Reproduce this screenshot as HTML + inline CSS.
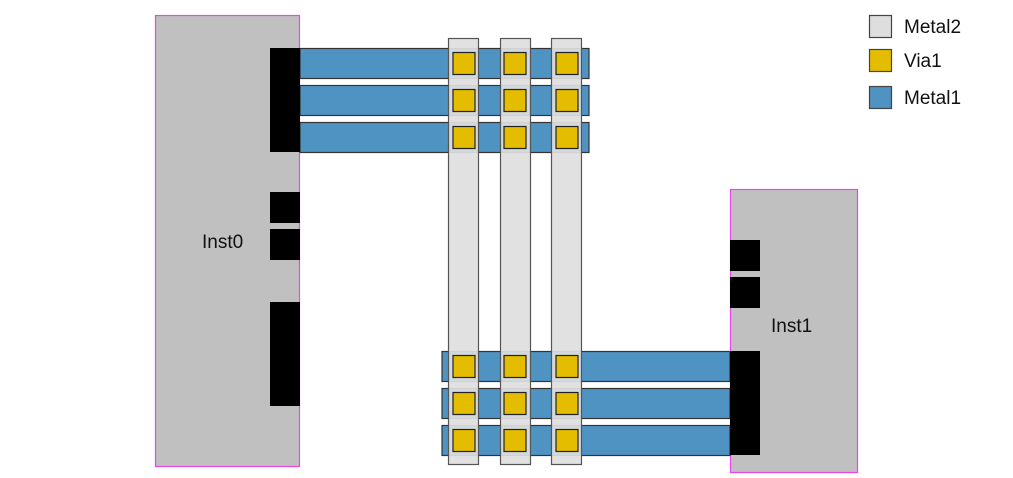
<!DOCTYPE html>
<html><head><meta charset="utf-8"><style>html,body{margin:0;padding:0;background:#fff}svg{display:block}</style></head><body>
<svg width="1013" height="478" viewBox="0 0 1013 478" xmlns="http://www.w3.org/2000/svg" font-family="Liberation Sans, sans-serif">
<rect x="155.5" y="15.5" width="144" height="451" fill="#c0c0c0" stroke="#ee44ee" stroke-width="1.2"/>
<text x="202" y="248" font-size="19" fill="#111">Inst0</text>
<rect x="730.5" y="189.5" width="127" height="283" fill="#c0c0c0" stroke="#ee44ee" stroke-width="1.2"/>
<text x="771" y="332" font-size="19" fill="#111">Inst1</text>
<g fill="#4f93c2" stroke="#333" stroke-width="1.2">
<rect x="300" y="48.5" width="289" height="30"/>
<rect x="300" y="85.5" width="289" height="30"/>
<rect x="300" y="122.5" width="289" height="30"/>
<rect x="442" y="351.5" width="288" height="30"/>
<rect x="442" y="388.5" width="288" height="30"/>
<rect x="442" y="425.5" width="288" height="30"/>
</g>
<g fill="#000">
<rect x="270" y="48" width="30" height="104"/>
<rect x="270" y="192" width="30" height="31"/>
<rect x="270" y="229" width="30" height="31"/>
<rect x="270" y="302" width="30" height="104"/>
<rect x="730" y="240" width="30" height="31"/>
<rect x="730" y="277" width="30" height="31"/>
<rect x="730" y="351" width="30" height="104"/>
</g>
<g fill="#dedede" stroke="#555" stroke-width="1.2" fill-opacity="0.92">
<rect x="448.5" y="38.5" width="30" height="426"/>
<rect x="500.5" y="38.5" width="30" height="426"/>
<rect x="551.5" y="38.5" width="30" height="426"/>
</g>
<g fill="#e4bc00" stroke="#222" stroke-width="1.2">
<rect x="453" y="52.5" width="22" height="22"/><rect x="504" y="52.5" width="22" height="22"/><rect x="556" y="52.5" width="22" height="22"/>
<rect x="453" y="89.5" width="22" height="22"/><rect x="504" y="89.5" width="22" height="22"/><rect x="556" y="89.5" width="22" height="22"/>
<rect x="453" y="126.5" width="22" height="22"/><rect x="504" y="126.5" width="22" height="22"/><rect x="556" y="126.5" width="22" height="22"/>
<rect x="453" y="355.5" width="22" height="22"/><rect x="504" y="355.5" width="22" height="22"/><rect x="556" y="355.5" width="22" height="22"/>
<rect x="453" y="392.5" width="22" height="22"/><rect x="504" y="392.5" width="22" height="22"/><rect x="556" y="392.5" width="22" height="22"/>
<rect x="453" y="429.5" width="22" height="22"/><rect x="504" y="429.5" width="22" height="22"/><rect x="556" y="429.5" width="22" height="22"/>
</g>
<g stroke="#444" stroke-width="1.2">
<rect x="869.5" y="15.5" width="22" height="22" fill="#dedede"/>
<rect x="869.5" y="49.5" width="22" height="22" fill="#e4bc00"/>
<rect x="869.5" y="86.5" width="22" height="22" fill="#4f93c2"/>
</g>
<g font-size="19" fill="#111">
<text x="904" y="33">Metal2</text>
<text x="904" y="67">Via1</text>
<text x="904" y="104">Metal1</text>
</g>
</svg>
</body></html>
